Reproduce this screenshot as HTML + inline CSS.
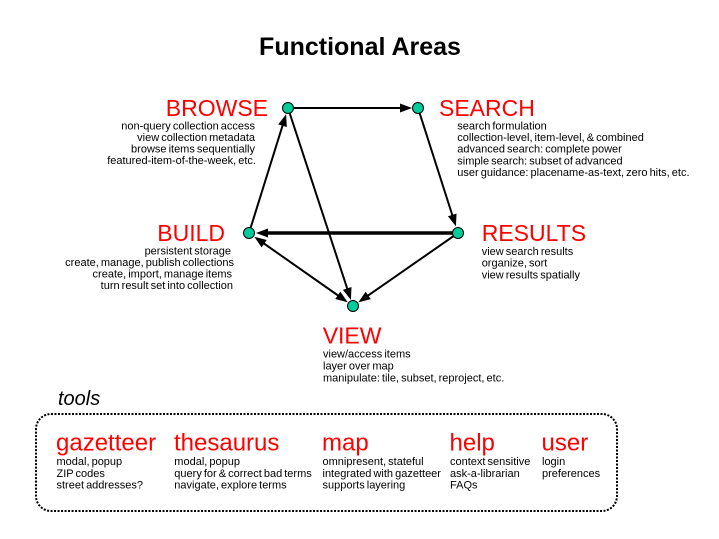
<!DOCTYPE html>
<html><head><meta charset="utf-8"><style>
html,body{margin:0;padding:0;background:#fff;}
svg{display:block;}
text{font-family:"Liberation Sans",Arial,sans-serif;}
.h{fill:#ff0000;font-size:23px;}
.t{fill:#ff0000;font-size:24px;}
.s{fill:#000;font-size:11px;word-spacing:-1px;}
</style></head><body>
<svg width="719" height="539" viewBox="0 0 719 539" xmlns="http://www.w3.org/2000/svg">
<defs>
<marker id="a" markerUnits="userSpaceOnUse" markerWidth="13" markerHeight="10" refX="9" refY="4.5" orient="auto" overflow="visible">
<path d="M0,0 L12,4.5 L0,9 z" fill="#000"/>
</marker>
<marker id="as" markerUnits="userSpaceOnUse" markerWidth="13" markerHeight="10" refX="9" refY="4.5" orient="auto-start-reverse" overflow="visible">
<path d="M0,0 L12,4.5 L0,9 z" fill="#000"/>
</marker>
<marker id="ab" markerUnits="userSpaceOnUse" markerWidth="14" markerHeight="10" refX="7" refY="4.5" orient="auto" overflow="visible">
<path d="M0,0 L12,4.5 L0,9 z" fill="#000"/>
</marker>
</defs>
<rect width="719" height="539" fill="#fff"/>

<text x="360" y="55" text-anchor="middle" font-size="25" font-weight="bold" fill="#000">Functional Areas</text>

<g stroke="#000" stroke-width="2" fill="none">
<line x1="288" y1="108" x2="409" y2="108" marker-end="url(#a)"/>
<line x1="418" y1="108" x2="455" y2="223.5" marker-end="url(#a)"/>
<line x1="458" y1="233" x2="261" y2="233" stroke-width="3.5" marker-end="url(#ab)"/>
<line x1="458" y1="233" x2="360.8" y2="300.6" marker-end="url(#a)"/>
<line x1="256.8" y1="238.5" x2="345.2" y2="300.5" marker-start="url(#as)" marker-end="url(#as)"/>
<line x1="288" y1="108" x2="350" y2="297" marker-end="url(#a)"/>
<line x1="249" y1="233" x2="285.2" y2="117.1" marker-end="url(#a)"/>
</g>

<g fill="#00cc99" stroke="#000" stroke-width="1">
<circle cx="288" cy="108" r="5.5"/>
<circle cx="418" cy="108" r="5.5"/>
<circle cx="458" cy="233" r="5.5"/>
<circle cx="249" cy="233" r="5.5"/>
<circle cx="353" cy="306" r="5.5"/>
</g>

<text class="h" x="268" y="116" text-anchor="end">BROWSE</text>
<text class="s" x="255" y="129.3" text-anchor="end">non-query collection access</text>
<text class="s" x="255" y="140.8" text-anchor="end">view collection metadata</text>
<text class="s" x="255" y="152.4" text-anchor="end">browse items sequentially</text>
<text class="s" x="256" y="164.2" text-anchor="end">featured-item-of-the-week, etc.</text>

<text class="h" x="439" y="116">SEARCH</text>
<text class="s" x="457.3" y="129.3">search formulation</text>
<text class="s" x="457.3" y="141">collection-level, item-level, &amp; combined</text>
<text class="s" x="457.3" y="152.7">advanced search: complete power</text>
<text class="s" x="457.3" y="164.4">simple search: subset of advanced</text>
<text class="s" x="457.3" y="176.1">user guidance: placename-as-text, zero hits, etc.</text>

<text class="h" x="225" y="241" text-anchor="end">BUILD</text>
<text class="s" x="231" y="254.5" text-anchor="end">persistent storage</text>
<text class="s" x="234" y="266" text-anchor="end">create, manage, publish collections</text>
<text class="s" x="232" y="277.5" text-anchor="end">create, import, manage items</text>
<text class="s" x="233" y="289" text-anchor="end">turn result set into collection</text>

<text class="h" x="481.7" y="241">RESULTS</text>
<text class="s" x="481.7" y="255">view search results</text>
<text class="s" x="481.7" y="266.7">organize, sort</text>
<text class="s" x="481.7" y="278.3">view results spatially</text>

<text class="h" x="322.7" y="343.3">VIEW</text>
<text class="s" x="323" y="357.5">view/access items</text>
<text class="s" x="323" y="369.5">layer over map</text>
<text class="s" x="323" y="381.7">manipulate: tile, subset, reproject, etc.</text>

<text x="58" y="405" font-size="20" font-style="italic" fill="#000">tools</text>

<rect x="36" y="414" width="581" height="97" rx="15" ry="15" fill="none" stroke="#000" stroke-width="2" stroke-dasharray="2 1.5"/>

<text class="t" x="56" y="450.7">gazetteer</text>
<text class="s" x="56.5" y="465">modal, popup</text>
<text class="s" x="56.5" y="476.8">ZIP codes</text>
<text class="s" x="56.5" y="488.3">street addresses?</text>

<text class="t" x="174" y="450.7">thesaurus</text>
<text class="s" x="174.3" y="465">modal, popup</text>
<text class="s" x="174.3" y="476.8">query for &amp; correct bad terms</text>
<text class="s" x="174.3" y="488.3">navigate, explore terms</text>

<text class="t" x="322" y="450.7">map</text>
<text class="s" x="322.5" y="465">omnipresent, stateful</text>
<text class="s" x="322.5" y="476.8">integrated with gazetteer</text>
<text class="s" x="322.5" y="488.3">supports layering</text>

<text class="t" x="449.5" y="450.7">help</text>
<text class="s" x="450" y="465">context sensitive</text>
<text class="s" x="450" y="476.8">ask-a-librarian</text>
<text class="s" x="450" y="488.3">FAQs</text>

<text class="t" x="541.5" y="450.7">user</text>
<text class="s" x="542" y="465">login</text>
<text class="s" x="542" y="476.8">preferences</text>
</svg>
</body></html>
